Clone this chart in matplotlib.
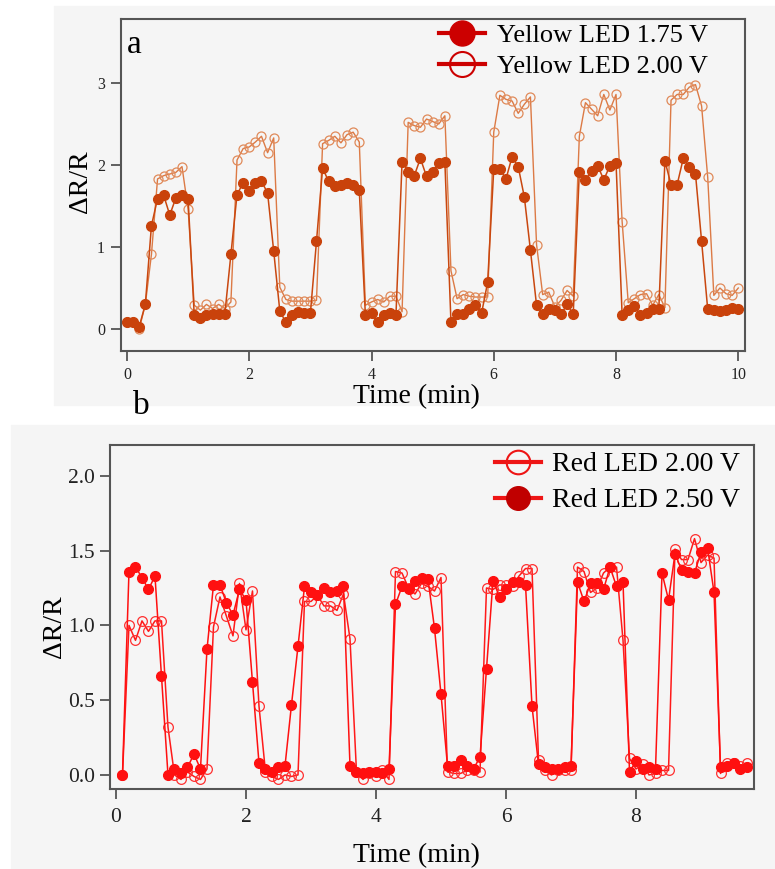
import matplotlib
matplotlib.use("Agg")
import matplotlib.pyplot as plt
from matplotlib.lines import Line2D
from matplotlib.patches import Rectangle
from matplotlib.ticker import FormatStrFormatter

plt.rcParams['font.family'] = ['Liberation Serif', 'DejaVu Serif']

# panel a: yellow LED, sampled every 0.1 min
time_a = [0.0, 0.1, 0.2, 0.3, 0.4, 0.5, 0.6, 0.7, 0.8, 0.9,
          1.0, 1.1, 1.2, 1.3, 1.4, 1.5, 1.6, 1.7, 1.8, 1.9,
          2.0, 2.1, 2.2, 2.3, 2.4, 2.5, 2.6, 2.7, 2.8, 2.9,
          3.0, 3.1, 3.2, 3.3, 3.4, 3.5, 3.6, 3.7, 3.8, 3.9,
          4.0, 4.1, 4.2, 4.3, 4.4, 4.5, 4.6, 4.7, 4.8, 4.9,
          5.0, 5.1, 5.2, 5.3, 5.4, 5.5, 5.6, 5.7, 5.8, 5.9,
          6.0, 6.1, 6.2, 6.3, 6.4, 6.5, 6.6, 6.7, 6.8, 6.9,
          7.0, 7.1, 7.2, 7.3, 7.4, 7.5, 7.6, 7.7, 7.8, 7.9,
          8.0, 8.1, 8.2, 8.3, 8.4, 8.5, 8.6, 8.7, 8.8, 8.9,
          9.0, 9.1, 9.2, 9.3, 9.4, 9.5, 9.6, 9.7, 9.8, 9.9, 10.0]
yellow_175 = [0.08, 0.08, 0.03, 0.30, 1.26, 1.59, 1.63, 1.39, 1.60, 1.63,
              1.58, 0.17, 0.13, 0.17, 0.18, 0.18, 0.18, 0.91, 1.64, 1.78,
              1.68, 1.78, 1.80, 1.66, 0.95, 0.22, 0.08, 0.17, 0.21, 0.19,
              0.19, 1.07, 1.96, 1.80, 1.74, 1.76, 1.78, 1.75, 1.69, 0.17,
              0.19, 0.08, 0.17, 0.20, 0.17, 2.04, 1.92, 1.87, 2.08, 1.86,
              1.92, 2.03, 2.04, 0.08, 0.18, 0.18, 0.24, 0.29, 0.19, 0.57,
              1.95, 1.95, 1.83, 2.10, 1.98, 1.61, 0.96, 0.29, 0.18, 0.25,
              0.23, 0.18, 0.30, 0.18, 1.92, 1.82, 1.93, 1.99, 1.82, 1.99,
              2.03, 0.17, 0.23, 0.28, 0.17, 0.20, 0.24, 0.24, 2.05, 1.76,
              1.76, 2.08, 1.98, 1.89, 1.07, 0.24, 0.23, 0.22, 0.23, 0.26, 0.24]
yellow_200 = [0.08, 0.08, 0.00, 0.30, 0.91, 1.83, 1.87, 1.89, 1.91, 1.98,
              1.46, 0.29, 0.23, 0.30, 0.25, 0.30, 0.25, 0.33, 2.06, 2.20,
              2.22, 2.28, 2.35, 2.15, 2.33, 0.51, 0.36, 0.34, 0.34, 0.34,
              0.34, 0.35, 2.26, 2.30, 2.35, 2.27, 2.37, 2.40, 2.28, 0.29,
              0.33, 0.36, 0.33, 0.40, 0.40, 0.21, 2.52, 2.48, 2.46, 2.56,
              2.53, 2.50, 2.60, 0.71, 0.37, 0.42, 0.40, 0.39, 0.39, 0.39,
              2.40, 2.85, 2.80, 2.78, 2.63, 2.74, 2.83, 1.03, 0.42, 0.45,
              0.27, 0.35, 0.47, 0.40, 2.35, 2.76, 2.68, 2.60, 2.86, 2.67,
              2.86, 1.31, 0.32, 0.37, 0.42, 0.43, 0.29, 0.42, 0.26, 2.79,
              2.86, 2.86, 2.95, 2.98, 2.72, 1.85, 0.41, 0.50, 0.43, 0.41, 0.50]

# panel b: red LED
time_b = [0.1, 0.2, 0.3, 0.4, 0.5, 0.6, 0.7, 0.8, 0.9,
          1.0, 1.1, 1.2, 1.3, 1.4, 1.5, 1.6, 1.7, 1.8, 1.9,
          2.0, 2.1, 2.2, 2.3, 2.4, 2.5, 2.6, 2.7, 2.8, 2.9,
          3.0, 3.1, 3.2, 3.3, 3.4, 3.5, 3.6, 3.7, 3.8, 3.9,
          4.0, 4.1, 4.2, 4.3, 4.4, 4.5, 4.6, 4.7, 4.8, 4.9,
          5.0, 5.1, 5.2, 5.3, 5.4, 5.5, 5.6, 5.7, 5.8, 5.9,
          6.0, 6.1, 6.2, 6.3, 6.4, 6.5, 6.6, 6.7, 6.8, 6.9,
          7.0, 7.1, 7.2, 7.3, 7.4, 7.5, 7.6, 7.7, 7.8, 7.9,
          8.0, 8.1, 8.2, 8.3, 8.4, 8.5, 8.6, 8.7, 8.8, 8.9,
          9.0, 9.1, 9.2, 9.3, 9.4, 9.5, 9.6, 9.7]
red_200 = [0.00, 1.00, 0.90, 1.03, 0.96, 1.03, 1.03, 0.32, 0.00,
           -0.03, 0.02, -0.01, -0.03, 0.04, 0.99, 1.19, 1.06, 0.93, 1.28,
           0.97, 1.23, 0.46, 0.02, -0.01, -0.03, 0.00, -0.01, 0.00, 1.16,
           1.16, 1.20, 1.13, 1.13, 1.10, 1.21, 0.91, 0.02, -0.03, 0.01,
           -0.01, 0.03, -0.03, 1.36, 1.35, 1.25, 1.21, 1.28, 1.26, 1.23,
           1.32, 0.02, 0.01, 0.01, 0.03, 0.03, 0.02, 1.25, 1.24, 1.27,
           1.27, 1.26, 1.33, 1.38, 1.38, 0.10, 0.03, 0.00, 0.03, 0.03,
           0.03, 1.39, 1.36, 1.22, 1.25, 1.35, 1.39, 1.39, 0.90, 0.11,
           0.04, 0.07, 0.00, 0.01, 0.03, 0.03, 1.51, 1.44, 1.44, 1.58,
           1.42, 1.47, 1.45, 0.01, 0.08, 0.08, 0.06, 0.08]
red_250 = [0.00, 1.36, 1.39, 1.32, 1.24, 1.33, 0.66, 0.00, 0.04,
           0.01, 0.05, 0.14, 0.04, 0.84, 1.27, 1.27, 1.15, 1.07, 1.24,
           1.17, 0.62, 0.08, 0.04, 0.02, 0.05, 0.06, 0.47, 0.86, 1.26,
           1.22, 1.20, 1.25, 1.22, 1.23, 1.26, 0.06, 0.02, 0.01, 0.02,
           0.02, 0.01, 0.04, 1.14, 1.26, 1.24, 1.30, 1.32, 1.31, 0.98,
           0.54, 0.06, 0.06, 0.10, 0.06, 0.04, 0.12, 0.71, 1.30, 1.19,
           1.24, 1.29, 1.29, 1.27, 0.46, 0.07, 0.05, 0.04, 0.04, 0.05,
           0.06, 1.29, 1.16, 1.28, 1.28, 1.24, 1.39, 1.26, 1.29, 0.02,
           0.09, 0.04, 0.05, 0.04, 1.35, 1.17, 1.48, 1.37, 1.36, 1.35,
           1.49, 1.52, 1.22, 0.05, 0.06, 0.08, 0.04, 0.05]

W, H = 775, 869
bg = '#f5f5f5'
fig = plt.figure(figsize=(W / 100, H / 100), dpi=100)

# light grey panel backgrounds
fig.add_artist(Rectangle((54 / W, 1 - 405 / H), 721 / W, 399 / H,
                         transform=fig.transFigure, color=bg, zorder=0))
fig.add_artist(Rectangle((11 / W, 0), 764 / W, 444 / H,
                         transform=fig.transFigure, color=bg, zorder=0))


def style_axes(ax, tick_size, tick_pad):
    ax.set_facecolor(bg)
    for s in ax.spines.values():
        s.set_color('#555555')
        s.set_linewidth(1.5)
    ax.tick_params(direction='out', length=7, width=1.3, color='#555555',
                   labelsize=tick_size, pad=tick_pad, labelcolor='#222222')


# ---- panel a
axa = fig.add_axes([121 / W, 1 - 351 / H, 624 / W, 332 / H])
style_axes(axa, 11.5, 4.5)
axa.plot(time_a, yellow_200, '-', color='#dc7a45', lw=1.0,
         marker='o', ms=6.5, mfc='none', mec='#e08a5a', mew=0.9)
axa.plot(time_a, yellow_175, '-', color='#c9470f', lw=1.1,
         marker='o', ms=7, mfc='#c9420b', mec='#c9420b')
axa.set_xlim(-0.098, 10.11)
axa.set_ylim(-0.268, 3.78)
axa.set_xticks([0, 2, 4, 6, 8, 10])
axa.set_yticks([0, 1, 2, 3])

handles_a = [Line2D([], [], color='#cc0000', lw=3, marker='o', ms=18,
                    mfc='#cc0000', mec='#cc0000'),
             Line2D([], [], color='#cc0000', lw=3, marker='o', ms=18,
                    mfc='none', mec='#cc0000', mew=1.5)]
axa.legend(handles_a, ['Yellow LED 1.75 V', 'Yellow LED 2.00 V'],
           loc='upper left', bbox_to_anchor=(439 / W, 1 - 24 / H),
           bbox_transform=fig.transFigure, frameon=False, fontsize=19,
           handlelength=1.75, handletextpad=0.45, labelspacing=0.27,
           borderpad=0, borderaxespad=0)

# ---- panel b
axb = fig.add_axes([110 / W, 1 - 789 / H, 644 / W, 344 / H])
style_axes(axb, 15.5, 4)
axb.tick_params(axis='x', pad=7)
axb.plot(time_b, red_200, '-', color='#ff1a1a', lw=1.1,
         marker='o', ms=7, mfc='none', mec='#ff3030', mew=0.9)
axb.plot(time_b, red_250, '-', color='#ff1010', lw=1.1,
         marker='o', ms=7, mfc='#ff1010', mec='#ff1010')
axb.set_xlim(-0.092, 9.815)
axb.set_ylim(-0.094, 2.206)
axb.set_xticks([0, 2, 4, 6, 8])
axb.set_yticks([0.0, 0.5, 1.0, 1.5, 2.0])
axb.yaxis.set_major_formatter(FormatStrFormatter('%.1f'))

handles_b = [Line2D([], [], color='#ee1515', lw=3, marker='o', ms=17,
                    mfc='none', mec='#ee1515', mew=1.5),
             Line2D([], [], color='#ee1515', lw=3, marker='o', ms=17,
                    mfc='#c00000', mec='#c00000')]
axb.legend(handles_b, ['Red LED 2.00 V', 'Red LED 2.50 V'],
           loc='upper left', bbox_to_anchor=(495 / W, 1 - 452 / H),
           bbox_transform=fig.transFigure, frameon=False, fontsize=20,
           handlelength=1.65, handletextpad=0.4, labelspacing=0.38,
           borderpad=0, borderaxespad=0)

# labels
fig.text(81 / W, 1 - 182 / H, 'ΔR/R', rotation=90, ha='center', va='center', fontsize=20)
fig.text(416 / W, 1 - 397 / H, 'Time (min)', ha='center', va='center', fontsize=20)
fig.text(55 / W, 1 - 627 / H, 'ΔR/R', rotation=90, ha='center', va='center', fontsize=20)
fig.text(416 / W, 1 - 856 / H, 'Time (min)', ha='center', va='center', fontsize=20)
fig.text(127 / W, 1 - 53 / H, 'a', fontsize=24, va='baseline')
fig.text(133 / W, 1 - 414 / H, 'b', fontsize=24, va='baseline')

fig.savefig('out.png', dpi=100)
